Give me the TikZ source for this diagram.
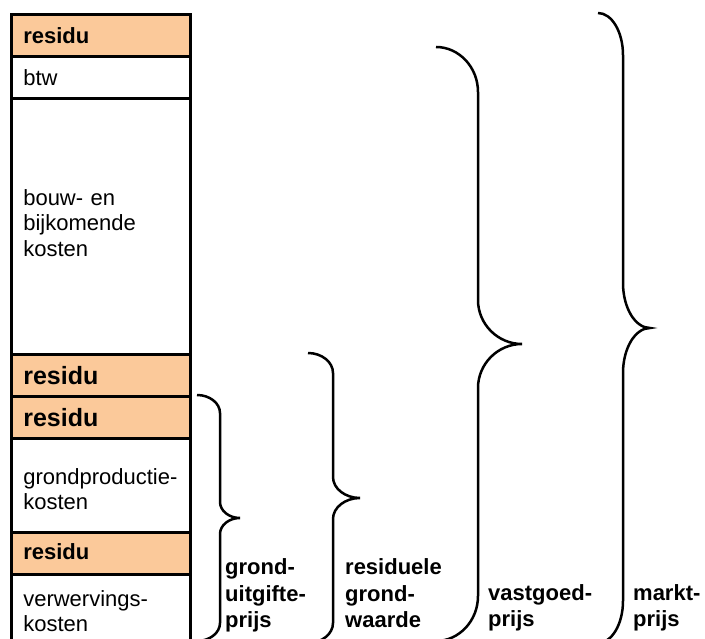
\documentclass[tikz,border=0pt]{standalone}
\usepackage{fontspec}
\setmainfont{Liberation Sans}
\definecolor{resorange}{RGB}{251,201,154}
\newcommand\mybrace[8]{%
  \pgfmathsetmacro\bym{(#3+#4)/2}%
  \coordinate (#1-top) at (#2,#3);
  \coordinate (#1-tip) at (#6,\bym);
  \coordinate (#1-bot) at (#2,#4);
  \draw[bracestyle] (#1-top) .. controls ({#2+0.55*(#5-#2)},#3) and (#5,{#3+0.45*#7}) .. (#5,{#3+#7})
    -- (#5,{\bym-#8}) .. controls (#5,{\bym-0.45*#8}) and ({#5+0.45*(#6-#5)},\bym) .. (#1-tip)
    .. controls ({#5+0.45*(#6-#5)},\bym) and (#5,{\bym+0.45*#8}) .. (#5,{\bym+#8})
    -- (#5,{#4-#7}) .. controls (#5,{#4-0.45*#7}) and ({#2+0.55*(#5-#2)},#4) .. (#1-bot);
}
\newcommand\lowstrut[1]{\rule[-#1]{0pt}{#1}}
\newcommand\highstrut[1]{\rule{0pt}{#1}}
\begin{document}
\begin{tikzpicture}[x=1pt,y=-1pt,
  box/.style={draw=black, line width=2.6pt, anchor=north west, minimum width=179pt,
    text width=155pt, inner xsep=12pt, inner ysep=0pt, align=left},
  plain/.style={box, fill=white, font=\fontsize{22}{25.5}\selectfont},
  res/.style={box, fill=resorange, font=\bfseries\fontsize{22}{26}\selectfont},
  resbig/.style={box, fill=resorange, font=\bfseries\fontsize{25}{28}\selectfont},
  bracestyle/.style={draw=black, line width=2.5pt},
  lbl/.style={anchor=west, inner sep=0pt, align=left, font=\bfseries\fontsize{22}{26.5}\selectfont}]
\useasboundingbox (0,0) rectangle (705,639);
% column of boxes
\node[res, minimum height=42pt] (resA) at (10,13) {residu};
\node[plain, minimum height=42pt] (btw) at (10,55) {btw};
\node[plain, minimum height=256pt] (bouw) at (10,97) {bouw- en\\bijkomende\\kosten\lowstrut{7pt}};
\node[resbig, minimum height=42pt] (resB) at (10,353) {residu};
\node[resbig, minimum height=42pt] (resC) at (10,395) {residu};
\node[plain, minimum height=94pt] (gprod) at (10,437) {\highstrut{24pt}\mbox{grondproductie-}\\kosten};
\node[res, minimum height=42pt] (resD) at (10,531) {residu\lowstrut{4pt}};
\node[plain, minimum height=74pt] (verw) at (10,573) {\mbox{verwervings-}\\kosten};
% braces
\mybrace{G}{197}{395}{641}{220}{240}{18}{16}
\mybrace{R}{308}{353}{643}{333}{360}{20}{21}
\mybrace{V}{436}{47}{641}{478}{522}{45}{44}
\mybrace{M}{598}{13}{643}{623}{650}{42}{45}
% labels
\node[lbl] (lG) at (225,595.8) {grond-\\uitgifte-\\prijs};
\node[lbl] (lR) at (345,593.5) {residuele\\grond-\\waarde};
\node[lbl] (lV) at (488,608) {vastgoed-\\prijs};
\node[lbl] (lM) at (633,608) {markt-\\prijs};
\end{tikzpicture}
\end{document}
